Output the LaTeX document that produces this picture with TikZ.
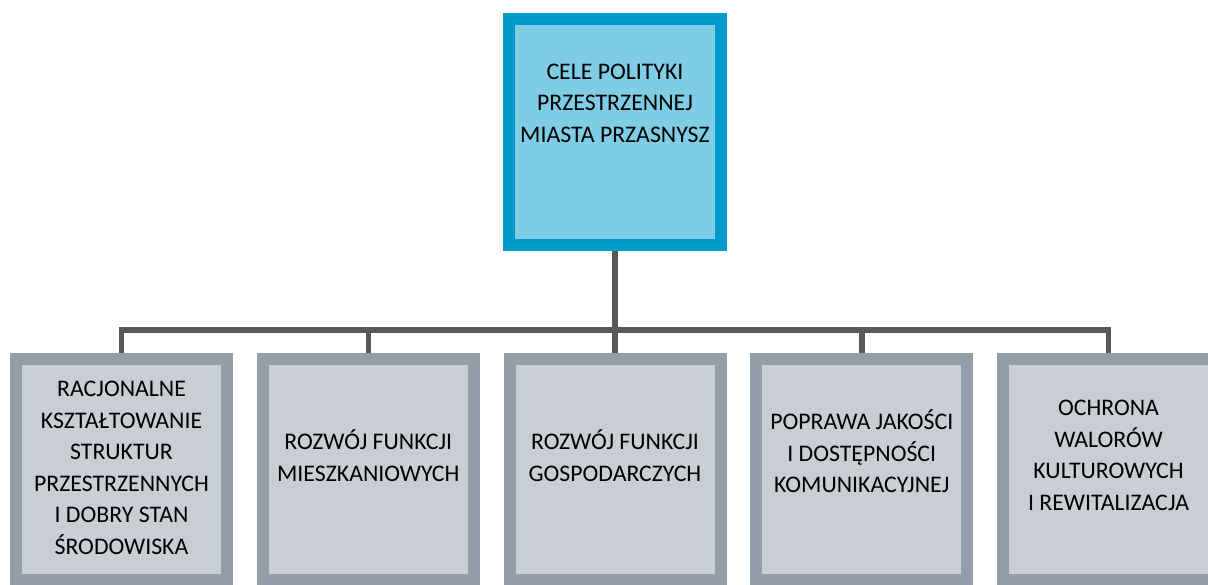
\documentclass[tikz,border=0pt]{standalone}
\usepackage{fontspec}
\setmainfont{Carlito}
\usetikzlibrary{positioning}

\definecolor{topedge}{RGB}{0,153,204}
\definecolor{topfill}{RGB}{127,204,229}
\definecolor{subedge}{RGB}{148,158,168}
\definecolor{subfill}{RGB}{201,206,213}
\definecolor{linkgray}{RGB}{89,89,89}

\tikzset{
  goal/.style={draw=topedge, fill=topfill, line width=12pt, minimum width=212pt, minimum height=226pt},
  subgoal/.style={draw=subedge, fill=subfill, line width=12pt, minimum width=211pt, minimum height=221pt},
  label/.style={align=center, inner sep=0pt, font=\fontsize{23.8}{31.5}\selectfont},
  link/.style={draw=linkgray, line width=5.5pt}
}

\begin{document}
\begin{tikzpicture}[x=1pt, y=-1pt]
  \useasboundingbox (0,0) rectangle (1208,584);

  % main goal
  \node [goal] (cele) at (615,132) {};
  \node [label] (celetxt) at (615,103) {CELE POLITYKI\\PRZESTRZENNEJ\\MIASTA PRZASNYSZ};

  % sub goals
  \node [subgoal] (g1) at (121.5,469.5) {};
  \node [subgoal] (g2) at (368.25,469.5) {};
  \node [subgoal] (g3) at (615,469.5) {};
  \node [subgoal] (g4) at (861.75,469.5) {};
  \node [subgoal] (g5) at (1108.5,469.5) {};

  \node [label] (g1txt) at (121.5,468) {RACJONALNE\\KSZTAŁTOWANIE\\STRUKTUR\\PRZESTRZENNYCH\\I DOBRY STAN\\ŚRODOWISKA};
  \node [label] (g2txt) at (368.25,455.5) {ROZWÓJ FUNKCJI\\MIESZKANIOWYCH};
  \node [label] (g3txt) at (615,455.5) {ROZWÓJ FUNKCJI\\GOSPODARCZYCH};
  \node [label] (g4txt) at (861.75,451.5) {POPRAWA JAKOŚCI\\I DOSTĘPNOŚCI\\KOMUNIKACYJNEJ};
  \node [label] (g5txt) at (1108.5,455.5) {OCHRONA\\WALORÓW\\KULTUROWYCH\\I REWITALIZACJA};

  % connectors
  \coordinate (bar) at (615,330);
  \foreach \g in {g1,g2,g3,g4,g5}
    \draw [link] (cele.south) -- (bar) -| (\g.north);
\end{tikzpicture}
\end{document}
